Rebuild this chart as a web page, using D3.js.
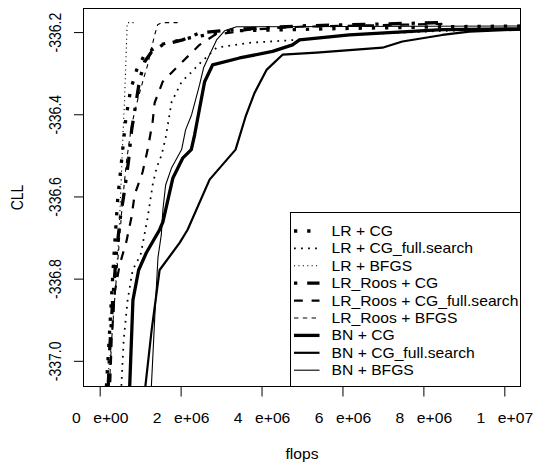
<!DOCTYPE html>
<html>
<head>
<meta charset="utf-8">
<script src="https://cdn.jsdelivr.net/npm/d3@7"></script>
<style>
body{margin:0;background:#fff}
svg{display:block}
text{font-family:"Liberation Sans",Arial,Helvetica,sans-serif;fill:#000}
</style>
</head>
<body>
<svg id="chart" width="535" height="462"></svg>
<script>
// legend order
var seriesNames=["LR + CG","LR + CG_full.search","LR + BFGS","LR_Roos + CG","LR_Roos + CG_full.search","LR_Roos + BFGS","BN + CG","BN + CG_full.search","BN + BFGS"];

// flops in millions, CLL values
var flops_LR_CG=[0.148,0.247,0.346,0.444,0.543,0.642,0.765,0.914,1.111,1.481,2.222,3.210,5.679,8.469,10.617];
var cll_LR_CG=[-337.095,-336.925,-336.754,-336.608,-336.511,-336.414,-336.340,-336.292,-336.255,-336.231,-336.214,-336.197,-336.192,-336.187,-336.185];

var flops_LR_CGfull=[0.519,0.593,0.691,0.815,1.012,1.185,1.309,1.407,1.531,1.630,1.778,2.025,2.272,2.518,2.889,3.704,4.864,6.173,8.469,10.617];
var cll_LR_CGfull=[-337.095,-336.949,-336.852,-336.779,-336.742,-336.652,-336.572,-336.530,-336.499,-336.457,-336.370,-336.321,-336.297,-336.272,-336.238,-336.226,-336.219,-336.207,-336.197,-336.192];

var flops_LR_BFGS=[0.148,0.198,0.272,0.370,0.444,0.494,0.543,0.575,0.617,0.659,0.679,0.691,0.914];
var cll_LR_BFGS=[-337.095,-337.046,-336.973,-336.852,-336.742,-336.652,-336.530,-336.450,-336.360,-336.238,-336.182,-336.177,-336.177];

var flops_Roos_CG=[0.198,0.247,0.321,0.420,0.519,0.617,0.716,0.790,0.889,0.988,1.111,1.284,1.556,2.049,2.469,3.284,4.938,8.395];
var cll_Roos_CG=[-337.095,-336.973,-336.852,-336.730,-336.645,-336.584,-336.511,-336.438,-336.377,-336.316,-336.272,-336.248,-336.231,-336.219,-336.202,-336.194,-336.185,-336.177];

var flops_Roos_CGfull=[0.247,0.296,0.370,0.494,0.659,0.783,0.864,1.062,1.185,1.309,1.358,1.556,1.926,2.222,2.469,2.840,3.704,4.938,8.469];
var cll_Roos_CGfull=[-337.095,-336.949,-336.835,-336.766,-336.710,-336.652,-336.596,-336.540,-336.486,-336.418,-336.372,-336.321,-336.284,-336.255,-336.231,-336.207,-336.194,-336.187,-336.180];

var flops_Roos_BFGS=[0.222,0.296,0.370,0.469,0.568,0.667,0.790,0.938,1.062,1.185,1.284,1.358,1.432,1.531,1.926];
var cll_Roos_BFGS=[-337.095,-336.949,-336.852,-336.730,-336.608,-336.511,-336.426,-336.365,-336.321,-336.280,-336.238,-336.207,-336.182,-336.177,-336.177];

var flops_BN_CG=[0.716,0.741,0.822,0.963,1.153,1.481,1.563,1.770,1.810,2.057,2.264,2.346,2.593,2.790,3.457,4.272,4.765,4.938,6.173,8.469,10.617];
var cll_BN_CG=[-337.143,-337.063,-336.852,-336.779,-336.737,-336.681,-336.662,-336.572,-336.555,-336.506,-336.486,-336.450,-336.321,-336.280,-336.263,-336.247,-336.231,-336.219,-336.207,-336.194,-336.192];

var flops_BN_CGfull=[1.086,1.128,1.284,1.481,1.975,2.173,2.716,3.358,3.605,3.827,4.123,4.518,5.358,6.988,7.481,8.469,9.136,10.617];
var cll_BN_CGfull=[-337.143,-337.063,-336.925,-336.779,-336.713,-336.681,-336.559,-336.486,-336.406,-336.348,-336.292,-336.255,-336.250,-336.238,-336.223,-336.207,-336.199,-336.193];

var flops_BN_BFGS=[1.259,1.277,1.358,1.440,1.523,1.563,1.630,1.778,2.025,2.123,2.272,2.370,2.469,2.568,2.716,2.889,3.086,3.383,10.617];
var cll_BN_BFGS=[-337.143,-337.063,-336.900,-336.749,-336.693,-336.632,-336.572,-336.530,-336.486,-336.438,-336.401,-336.365,-336.328,-336.287,-336.255,-336.219,-336.197,-336.187,-336.185];

var xTicks=[0,2e6,4e6,6e6,8e6,1e7];
var xTickMant=["0","2","4","6","8","1"];
var xTickExp=["e+00","e+06","e+06","e+06","e+06","e+07"];
var yTicks=[-337.0,-336.8,-336.6,-336.4,-336.2];
var yTickLabels=["-337.0","-336.8","-336.6","-336.4","-336.2"];

// line styles (R lty / lwd)
var ltys=["dotted","dotted","dotted","dotdash","dashed","dashed","solid","solid","solid"];
var lwds=[3,1.6,1,3,2,1,3,2,1];
var ltyPattern={solid:null,dotted:[1,3],dashed:[4,4],dotdash:[1,3,4,3]};

var allFlops=[flops_LR_CG,flops_LR_CGfull,flops_LR_BFGS,flops_Roos_CG,flops_Roos_CGfull,flops_Roos_BFGS,flops_BN_CG,flops_BN_CGfull,flops_BN_BFGS];
var allCll=[cll_LR_CG,cll_LR_CGfull,cll_LR_BFGS,cll_Roos_CG,cll_Roos_CGfull,cll_Roos_BFGS,cll_BN_CG,cll_BN_CGfull,cll_BN_BFGS];

var W=535,H=462;
var plot={l:83.5,r:520.5,t:8.5,b:386.5};
var u=1.1;//px per lwd unit
var sx=1.12;//text looks stretched sideways
var fs=14;

var x=d3.scaleLinear().domain([-0.4e6,10.4e6]).range([plot.l,plot.r]);
var y=d3.scaleLinear().domain([-337.0625,-336.1426]).range([plot.b,plot.t]);

var svg=d3.select("#chart");
svg.append("rect").attr("width",W).attr("height",H).attr("fill","#fff");
svg.append("clipPath").attr("id","clip").append("rect")
    .attr("x",plot.l).attr("y",plot.t).attr("width",plot.r-plot.l).attr("height",plot.b-plot.t);

function dashOf(i){
    var p=ltyPattern[ltys[i]];
    if(!p) return null;
    return p.map(function(d){return d*lwds[i]*u}).join(",");
}

var line=d3.line().x(function(d){return x(d[0])}).y(function(d){return y(d[1])});

var curves=svg.append("g").attr("clip-path","url(#clip)");
seriesNames.forEach(function(name,i){
    var pts=allFlops[i].map(function(f,j){return [f*1e6,allCll[i][j]]});
    curves.append("path").attr("d",line(pts))
        .attr("fill","none").attr("stroke","#000")
        .attr("stroke-width",lwds[i]*u)
        .attr("stroke-dasharray",dashOf(i))
        .attr("stroke-linejoin","round").attr("stroke-linecap","butt");
});

// box
svg.append("rect").attr("x",plot.l).attr("y",plot.t).attr("width",plot.r-plot.l).attr("height",plot.b-plot.t)
    .attr("fill","none").attr("stroke","#000").attr("stroke-width",1);

// x axis
var gx=svg.append("g").attr("transform","translate(0,"+plot.b+")")
    .call(d3.axisBottom(x).tickValues(xTicks).tickSize(10).tickFormat(""));
gx.select(".domain").remove();
gx.selectAll(".tick line").attr("stroke","#000");
gx.selectAll(".tick text").remove();
gx.selectAll(".tick").each(function(d,i){
    var t=d3.select(this).append("text").attr("transform","translate(0,36) scale("+sx+",1)")
        .attr("text-anchor","middle").style("font-size",fs+"px");
    t.append("tspan").text(xTickMant[i]);
    t.append("tspan").attr("dx",11.2).text(xTickExp[i]);
});

// y axis
var gy=svg.append("g").attr("transform","translate("+plot.l+",0)")
    .call(d3.axisLeft(y).tickValues(yTicks).tickSize(9.5).tickFormat(""));
gy.select(".domain").remove();
gy.selectAll(".tick line").attr("stroke","#000");
gy.selectAll(".tick text").remove();
gy.selectAll(".tick").each(function(d,i){
    d3.select(this).append("text").attr("transform","translate(-22.5,0) scale("+sx+",1) rotate(-90)")
        .attr("text-anchor","middle").style("font-size",fs+"px").text(yTickLabels[i]);
});

// axis titles
svg.append("text").attr("transform","translate("+((plot.l+plot.r)/2)+",458.5) scale("+sx+",1)")
    .attr("text-anchor","middle").style("font-size",fs+"px").text("flops");
svg.append("text").attr("transform","translate(23,"+((plot.t+plot.b)/2)+") scale("+sx+",1) rotate(-90)")
    .attr("text-anchor","middle").style("font-size",fs+"px").text("CLL");

// legend, bottom right
var leg={l:290.5,t:212.5,row0:231,dy:17.4,segA:294,segB:319.5,textX:331.5};
svg.append("rect").attr("x",leg.l).attr("y",leg.t).attr("width",plot.r-leg.l).attr("height",plot.b-leg.t)
    .attr("fill","#fff").attr("stroke","#000").attr("stroke-width",1);
seriesNames.forEach(function(name,i){
    var cy=leg.row0+i*leg.dy;
    svg.append("line").attr("x1",leg.segA).attr("x2",leg.segB).attr("y1",cy).attr("y2",cy)
        .attr("stroke","#000").attr("stroke-width",lwds[i]*u)
        .attr("stroke-dasharray",dashOf(i)).attr("stroke-linecap","butt");
    svg.append("text").attr("transform","translate("+leg.textX+","+(cy+5)+") scale("+sx+",1)")
        .style("font-size",fs+"px").text(name);
});
</script>
</body>
</html>
